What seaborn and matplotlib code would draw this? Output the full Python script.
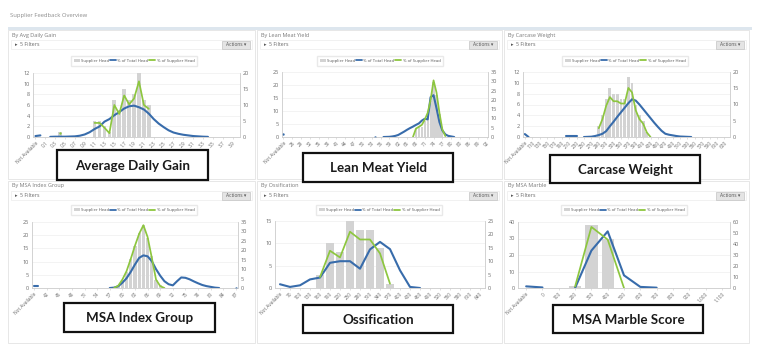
import matplotlib
matplotlib.use("Agg")
import matplotlib.pyplot as plt
from matplotlib.patches import Rectangle, Patch
from matplotlib.lines import Line2D
import pandas as pd
import seaborn as sns

sns.set_theme(style="white")
plt.rcParams["font.family"] = ["Open Sans", "DejaVu Sans"]

# ---------------------------------------------------------------- data
SERIES_NAMES = ["Supplier Head", "% of Total Head", "% of Supplier Head"]
PAGE_TITLE = "Supplier Feedback Overview"

# Average daily gain (kg/day)
adg_cats = ["Not Available"] + [f"{i / 10:.1f}" for i in range(41)]
adg_head = [0] * 5 + [1] + [0] * 6 + [3, 3, 2, 1, 7, 5, 9, 7, 8, 12, 7, 6] + [0] * 18
adg_total_pct = [0.3, 0.5, None, 0.05, 0.1, 0.1, 0.1, 0.15, 0.2, 0.4, 0.8, 1.5, 2.5,
                 3.3, 4.8, 5.6, 6.8, 7.8, 8.9, 9.6, 9.8, 9.3, 8.6, 7.3, 5.6, 4.2, 3.1,
                 2.1, 1.4, 1.0, 0.7, 0.5, 0.3, 0.2, 0.1, 0.05] + [None] * 6
adg_supplier_pct = ([None] * 5 + [1.4] + [None] * 6
                    + [4.4, 4.4, 2.9, 1.2, 10.0, 7.2, 13.0, 10.2, 12.0, 17.4, 10.0, 8.8]
                    + [None] * 18)

# Lean meat yield
lmy_cats = ["Not Available"] + [str(v) for v in range(24, 93)]
lmy_head = [0] * 45 + [3, 4, 4, 6, 9, 14, 21, 16, 9, 3] + [0] * 15
lmy_total_pct = ([1.5] + [None] * 30 + [0.0] + [None] * 2
                 + [0.0, 0.05, 0.1, 0.3, 0.6, 1.1, 2.0, 2.9, 3.9, 4.8, 5.6, 6.5, 7.3,
                    8.8, 9.8, 9.5, 21.5, 22.5, 15.5, 8.0, 3.5, 1.4, 0.6, 0.3, 0.0]
                 + [None] * 11)
lmy_supplier_pct = ([None] * 44
                    + [0.0, 4.5, 5.5, 6.5, 9.3, 13.0, 20.0, 30.5, 24.0, 13.0, 4.0, 0.5]
                    + [None] * 14)

# Carcase weight (kg)
cw_cats = ["Not Available"] + [str(v) for v in range(100, 650, 10)]
cw_head = [0] * 20 + [2, 4, 7, 9, 8, 8, 7, 7, 11, 10, 6, 4, 3, 1] + [0] * 22
cw_total_pct = ([0.9, 0.0] + [None] * 9 + [0.2, 0.2, 0.2, 0.2] + [None]
                + [0.0, 0.05, 0.1, 0.3, 0.6, 1.0, 1.8, 3.3, 4.7, 6.2, 7.6, 9.0, 10.4,
                   11.6, 11.2, 10.0, 8.6, 7.2, 5.8, 4.4, 3.1, 1.9, 1.0, 0.7, 0.5, 0.3,
                   0.15, 0.1, 0.05, 0.0]
                + [None] * 10)
cw_supplier_pct = ([None] * 20
                   + [2.7, 5.5, 9.6, 12.3, 11.0, 11.0, 10.3, 10.3, 15.1, 13.7, 8.2,
                      5.5, 4.1, 1.4, 0.0]
                   + [None] * 21)

# MSA index group
msa_cats = ["Not Available"] + [str(v) for v in range(40, 88)]
msa_head = [0] * 20 + [1, 3, 6, 11, 16, 21, 24, 19, 12, 3, 1] + [0] * 18
msa_total_pct = ([1.0, 1.0] + [None] * 16
                 + [0.0, 0.2, 0.9, 2.8, 5.2, 8.6, 12.5, 16.0, 17.3, 16.8, 14.2, 10.0,
                    6.5, 3.6, 2.0, 1.4, 3.6, 5.6, 5.4, 4.6, 3.5, 2.5, 1.6, 1.0, 0.6,
                    0.2, 0.0]
                 + [None] * 3 + [0.0])
msa_supplier_pct = ([None] * 19
                    + [0.0, 1.2, 4.5, 9.0, 15.5, 22.5, 28.8, 33.3, 27.0, 16.0, 4.5, 1.0, 0.0]
                    + [None] * 17)

# Ossification
oss_cats = ["Not Available"] + [str(v) for v in range(70, 670, 30)]
oss_head = [0] * 4 + [3, 10, 8, 15, 13, 13, 9, 1] + [0] * 9
oss_total_pct = [1.4, 0.4, 1.0, 3.2, 3.9, 9.4, 10.0, 10.0, 7.2, 14.4, 17.2, 14.5,
                 6.6, 0.4, 0.0] + [None] * 6
oss_supplier_pct = [None] * 4 + [4.1, 13.9, 11.4, 21.0, 18.1, 18.1, 12.9, 1.6] + [None] * 9

# MSA marble score
marble_cats = ["Not Available", "0", "100", "200", "300", "400", "500", "600", "700",
               "800", "900", "1,000", "1,100"]
marble_head = [0, 0, 0, 1, 38, 30, 0, 0, 0, 0, 0, 0, 0]
marble_total_pct = [1.5, 0.5, None, 0.0, 34.0, 51.5, 11.5, 1.0, 0.3, None, None, None, None]
marble_supplier_pct = [None, None, None, 1.3, 55.5, 44.0, 0.0, None, None, None, None, None, None]

# ---------------------------------------------------------------- styling
W, H = 768, 348
BAR = "#d3d3d3"
BLUE = "#386cab"
GREEN = "#8dc63f"
GREY_TXT = "#6a6a6a"
BORDER = "#e3e3e3"

fig = plt.figure(figsize=(W / 100, H / 100), dpi=100)
fig.patch.set_facecolor("white")

bg = fig.add_axes([0, 0, 1, 1], zorder=0)
bg.set_xlim(0, W)
bg.set_ylim(H, 0)
bg.axis("off")

fg = fig.add_axes([0, 0, 1, 1], zorder=20)
fg.set_xlim(0, W)
fg.set_ylim(H, 0)
fg.axis("off")
fg.patch.set_alpha(0)


def px_axes(l, t, r, b, z=2):
    return fig.add_axes([l / W, 1 - b / H, (r - l) / W, (b - t) / H], zorder=z)


def draw_series(ax, values, color, lw):
    runs, run = [], []
    for i, v in enumerate(values):
        if v is None:
            if run:
                runs.append(run)
            run = []
        else:
            run.append((i, v))
    if run:
        runs.append(run)
    multi = [(p, v, k) for k, r in enumerate(runs) if len(r) > 1 for p, v in r]
    single = [(p, v) for r in runs if len(r) == 1 for p, v in r]
    if multi:
        df = pd.DataFrame(multi, columns=["pos", "val", "seg"])
        sns.lineplot(data=df, x="pos", y="val", units="seg", estimator=None,
                     color=color, lw=lw, ax=ax, legend=False, sort=False)
    if single:
        df1 = pd.DataFrame(single, columns=["pos", "val"])
        sns.scatterplot(data=df1, x="pos", y="val", color=color, s=3,
                        linewidth=0, ax=ax, legend=False)


columns = [(8, 255), (257, 502), (504, 749)]
rows = [(30, 179), (181, 343)]

# page header
bg.text(10, 15, PAGE_TITLE, fontsize=4.2, color="#8c8c8c", va="center")
bg.add_patch(Rectangle((8, 27), 744, 3, facecolor="#dde6ee", edgecolor="none"))

panels = [
    dict(title="By Avg Daily Gain", label="Average Daily Gain", cats=adg_cats,
         head=adg_head, tot=adg_total_pct, sup=adg_supplier_pct, step=2,
         col=0, row=0, plot=(33, 73, 240, 137), yl=(12, 2), yr=(20, 5),
         legend=(134, 61), box=(57, 150, 208, 180)),
    dict(title="By Lean Meat Yield", label="Lean Meat Yield", cats=lmy_cats,
         head=lmy_head, tot=lmy_total_pct, sup=lmy_supplier_pct, step=3,
         col=1, row=0, plot=(282, 72, 488, 137), yl=(25, 5), yr=(35, 5),
         legend=(380, 61), box=(303, 153, 453, 182)),
    dict(title="By Carcase Weight", label="Carcase Weight", cats=cw_cats,
         head=cw_head, tot=cw_total_pct, sup=cw_supplier_pct, step=2,
         col=2, row=0, plot=(523, 72, 730, 137), yl=(12, 2), yr=(20, 5),
         legend=(625, 61), box=(550, 155, 700, 183)),
    dict(title="By MSA Index Group", label="MSA Index Group", cats=msa_cats,
         head=msa_head, tot=msa_total_pct, sup=msa_supplier_pct, step=3,
         col=0, row=1, plot=(32, 222, 238, 288), yl=(25, 5), yr=(35, 5),
         legend=(134, 210), box=(64, 303, 215, 332)),
    dict(title="By Ossification", label="Ossification", cats=oss_cats,
         head=oss_head, tot=oss_total_pct, sup=oss_supplier_pct, step=1,
         col=1, row=1, plot=(275, 221, 485, 288), yl=(15, 5), yr=(25, 5),
         legend=(379, 210), box=(303, 305, 453, 333)),
    dict(title="By MSA Marble", label="MSA Marble Score", cats=marble_cats,
         head=marble_head, tot=marble_total_pct, sup=marble_supplier_pct, step=1,
         col=2, row=1, plot=(518, 222, 730, 288), yl=(40, 10), yr=(60, 10),
         legend=(624, 210), box=(553, 305, 703, 333)),
]

for p in panels:
    x0, x1 = columns[p["col"]]
    y0, y1 = rows[p["row"]]
    # panel frame and header
    bg.add_patch(Rectangle((x0, y0), x1 - x0, y1 - y0, facecolor="white",
                           edgecolor=BORDER, lw=0.6))
    bg.text(x0 + 4, y0 + 5, p["title"], fontsize=4.0, color="#7a7a7a", va="center")
    bg.add_patch(Rectangle((x0 + 3, y0 + 10), x1 - x0 - 6, 9, facecolor="white",
                           edgecolor="#ebebeb", lw=0.5))
    bg.text(x0 + 7, y0 + 14.5, "\u25b8", fontsize=3.6, color="#555555", va="center")
    bg.text(x0 + 12, y0 + 14.5, "5 Filters", fontsize=3.8, color="#666666", va="center")
    bg.add_patch(Rectangle((x1 - 33, y0 + 10.5), 28, 8, facecolor="#e4e4e4",
                           edgecolor="#c4c4c4", lw=0.5))
    bg.text(x1 - 19, y0 + 14.5, "Actions \u25be", fontsize=3.5, color="#555555",
            va="center", ha="center")

    n = len(p["cats"])
    pos = list(range(n))
    l, t, r, b = p["plot"]
    ax = px_axes(l, t, r, b)
    sns.barplot(x=pos, y=p["head"], native_scale=True, width=0.75, color=BAR,
                saturation=1, errorbar=None, linewidth=0, ax=ax)
    ax.set_axisbelow(True)
    ax.yaxis.grid(True, color="#eeeeee", lw=0.5)
    ymax_l, st_l = p["yl"]
    ax.set_ylim(0, ymax_l)
    ax.set_yticks(range(0, ymax_l + 1, st_l))
    ax.set_xlim(-0.5, n - 0.5)
    ax.set_xticks(pos[::p["step"]])
    ax.set_xticklabels(p["cats"][::p["step"]], rotation=45, ha="right",
                       rotation_mode="anchor", fontsize=3.4, color=GREY_TXT)
    ax.tick_params(axis="y", labelsize=4.0, labelcolor=GREY_TXT, length=0, pad=2)
    ax.tick_params(axis="x", length=1.2, width=0.4, color="#c8c8c8", pad=1.5,
                   bottom=True)
    ax.set_xlabel("")
    ax.set_ylabel("")

    ax2 = ax.twinx()
    draw_series(ax2, p["tot"], BLUE, 1.5)
    draw_series(ax2, p["sup"], GREEN, 1.25)
    ymax_r, st_r = p["yr"]
    ax2.set_ylim(0, ymax_r)
    ax2.set_yticks(range(0, ymax_r + 1, st_r))
    ax2.set_xlim(-0.5, n - 0.5)
    ax2.tick_params(axis="y", labelsize=4.0, labelcolor=GREY_TXT, length=0, pad=2)
    ax2.set_xlabel("")
    ax2.set_ylabel("")
    for a in (ax, ax2):
        a.patch.set_alpha(0)
        for side in ("left", "right", "bottom"):
            a.spines[side].set_color("#cfcfcf")
            a.spines[side].set_linewidth(0.5)
        a.spines["top"].set_visible(False)

    # legend above the plot
    handles = [Patch(facecolor=BAR, edgecolor="none"),
               Line2D([0], [0], color=BLUE, lw=1.3),
               Line2D([0], [0], color=GREEN, lw=1.3)]
    cx, cy = p["legend"]
    fig.legend(handles, SERIES_NAMES, loc="center", ncol=3,
               bbox_to_anchor=(cx / W, 1 - cy / H), bbox_transform=fig.transFigure,
               fontsize=3.1, frameon=True, fancybox=False, edgecolor="#e4e4e4",
               handlelength=1.4, handleheight=0.8, handletextpad=0.3,
               columnspacing=0.2, borderpad=0.7, labelcolor="#555555")

    # caption box
    bx0, by0, bx1, by1 = p["box"]
    fg.add_patch(Rectangle((bx0, by0), bx1 - bx0, by1 - by0, facecolor="white",
                           edgecolor="#111111", lw=1.6))
    fg.text((bx0 + bx1) / 2, (by0 + by1) / 2 + 0.5, p["label"], fontsize=9.6,
            fontweight="bold", family=["Lato", "DejaVu Sans"], color="#1a1a1a",
            ha="center", va="center")

fig.savefig("out.png", dpi=100, facecolor="white")
